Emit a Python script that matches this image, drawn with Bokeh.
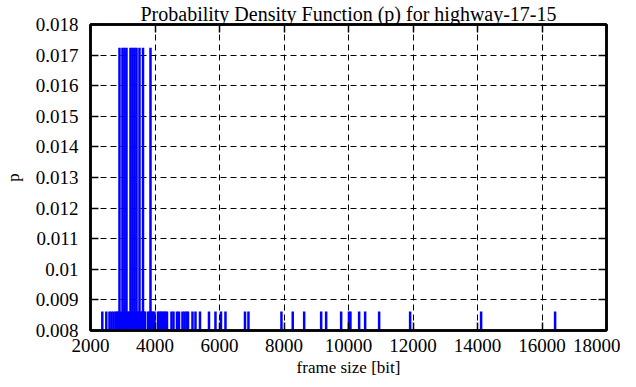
from bokeh.plotting import figure
from bokeh.models import Range1d, FixedTicker, LinearAxis
from bokeh.embed import file_html
from bokeh.resources import INLINE

# frame sizes [bit] with their probability density values
tall_sizes = [2899, 2992, 3054, 3116, 3240, 3302, 3364, 3426, 3519, 3628, 3860]
tall_p = [0.01724] * len(tall_sizes)

low_sizes = [2366, 2490, 2589, 2651, 2713, 2775, 2822, 2853, 2946, 3023, 3085,
             3163, 3194, 3271, 3333, 3395, 3457, 3488, 3566, 3597, 3659, 3690,
             3783, 3829, 3891, 3938, 3984, 4093, 4139, 4186, 4232, 4279, 4325,
             4372, 4511, 4573, 4682, 4744, 4852, 4914, 4976, 5023, 5162, 5255,
             5395, 5674, 5875, 6046, 6185, 6790, 6898, 7921, 8271, 8625, 9152,
             9307, 9772, 10014, 10060, 10330, 10516, 10950, 11911, 14112, 16406]
low_p = [0.00862] * len(low_sizes)

sizes = low_sizes + tall_sizes
pvals = low_p + tall_p

x_ticks = [2000, 4000, 6000, 8000, 10000, 12000, 14000, 16000, 18000]
y_ticks = [0.008, 0.009, 0.010, 0.011, 0.012, 0.013, 0.014, 0.015, 0.016, 0.017, 0.018]
y_tick_labels = ["0.008", "0.009", "0.01", "0.011", "0.012", "0.013", "0.014",
                 "0.015", "0.016", "0.017", "0.018"]

FONT = "Liberation Serif"

p = figure(width=620, height=379, x_range=Range1d(2000, 18000),
           y_range=Range1d(0.008, 0.018), output_backend="svg",
           toolbar_location=None, min_border_left=84, min_border_right=14,
           min_border_top=22, min_border_bottom=0,
           title="Probability Density Function (p) for highway-17-15")

p.title.text_font = FONT
p.title.text_font_size = "20px"
p.title.text_font_style = "normal"
p.title.text_color = "black"
p.title.align = "center"
p.title.standoff = 0
p.title.offset = 0

p.segment(x0=sizes, y0=[0] * len(sizes), x1=sizes, y1=pvals,
          line_color="#0000ff", line_width=2.5)

p.outline_line_color = "black"
p.outline_line_width = 2.5
p.background_fill_color = "white"
p.border_fill_color = "white"

p.xaxis.ticker = FixedTicker(ticks=x_ticks)
p.yaxis.ticker = FixedTicker(ticks=y_ticks)
p.yaxis.major_label_overrides = {t: l for t, l in zip(y_ticks, y_tick_labels)}

for ax in [p.xaxis[0], p.yaxis[0]]:
    ax.axis_line_color = "black"
    ax.axis_line_width = 2.5
    ax.major_tick_in = 8
    ax.major_tick_out = 0
    ax.minor_tick_line_color = None
    ax.major_tick_line_color = "black"
    ax.major_tick_line_width = 1.5
    ax.major_label_text_font = FONT
    ax.major_label_text_font_size = "19px"
    ax.major_label_text_color = "black"
    ax.axis_label_text_font = FONT
    ax.axis_label_text_font_size = "17px"
    ax.axis_label_text_font_style = "normal"
    ax.axis_label_text_color = "black"

p.xaxis.axis_label = "frame size [bit]"
p.yaxis.axis_label = "p"
p.xaxis.major_label_standoff = 8
p.yaxis.major_label_standoff = 12
p.xaxis.axis_label_standoff = 3
p.yaxis.axis_label_standoff = 10

# mirrored ticks on top and right
for loc, ticks in [("above", x_ticks), ("right", y_ticks)]:
    ax = LinearAxis(ticker=FixedTicker(ticks=ticks), major_label_text_font_size="0px",
                    major_label_text_color=None, axis_line_color="black",
                    axis_line_width=2.5, major_tick_in=8, major_tick_out=0,
                    major_tick_line_width=1.5,
                    minor_tick_line_color=None, major_label_standoff=0)
    p.add_layout(ax, loc)

p.xgrid.ticker = FixedTicker(ticks=x_ticks[1:-1])
p.ygrid.ticker = FixedTicker(ticks=y_ticks[1:-1])
for g in [p.xgrid[0], p.ygrid[0]]:
    g.grid_line_color = "black"
    g.grid_line_dash = "6 4"
    g.grid_line_width = 1
    g.grid_line_alpha = 1.0

open("out.html", "w").write(file_html(p, INLINE))
